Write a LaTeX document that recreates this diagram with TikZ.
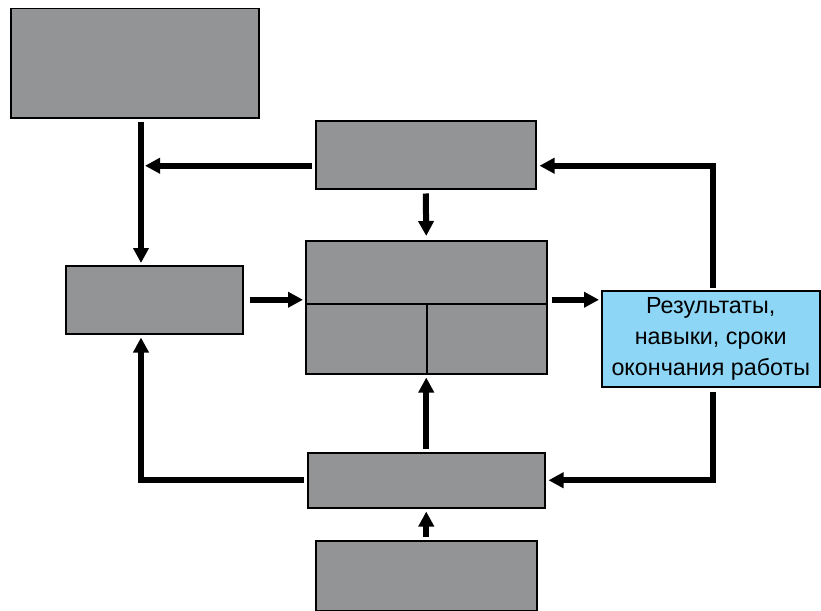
\documentclass[tikz,border=0pt]{standalone}
\usepackage{fontspec}
\setmainfont{Liberation Sans}
\usetikzlibrary{arrows.meta}
\definecolor{boxgray}{HTML}{939496}
\definecolor{boxblue}{HTML}{8DD6F6}
\tikzset{
  box/.style={draw=black, line width=1.5pt, fill=boxgray, inner sep=0pt, anchor=north west},
  arr/.style={line width=6pt, -{Triangle[length=15pt,width=15pt]}},
}
\begin{document}
\begin{tikzpicture}[x=1pt,y=-1pt]
\useasboundingbox (0,0) rectangle (821,610);
\node[box, minimum width=248pt, minimum height=109pt] (A) at (10,8) {};
\node[box, minimum width=220pt, minimum height=68pt] (B) at (315,120) {};
\node[box, minimum width=177pt, minimum height=68pt] (C) at (65,265) {};
\node[box, minimum width=241pt, minimum height=63pt] (D1) at (305,240) {};
\node[box, minimum width=121pt, minimum height=70pt] (D2) at (305,303) {};
\node[box, minimum width=120pt, minimum height=70pt] (D3) at (426,303) {};
\node[box, fill=boxblue, minimum width=218pt, minimum height=96pt, align=center,
      font=\fontsize{23.3pt}{31pt}\selectfont] (E) at (601,290)
      {Результаты,\\навыки, сроки\\окончания работы};
\node[box, minimum width=237pt, minimum height=55pt] (F) at (307,452) {};
\node[box, minimum width=221pt, minimum height=70pt] (G) at (315,540) {};
\coordinate (lc) at (141,0);
\coordinate (rc) at (713,0);
% A -> C
\draw[arr] ([yshift=-3pt]A.south -| lc) -- ([yshift=2pt]C.north -| lc);
% B -> left line
\draw[arr] ([xshift=-3pt,yshift=-11pt]B.west) -- ([yshift=-11pt]B.west -| 145,0);
% B -> D
\draw[arr] ([yshift=-4pt]B.south) -- ([yshift=4pt]D1.north);
% C -> D
\draw[arr] ([xshift=6pt]C.east) -- ([xshift=-2pt]C.east -| D2.west);
% D -> E
\draw[arr] ([xshift=4pt]C.east -| D3.east) -- ([xshift=-2pt]C.east -| E.west);
% E -> B
\draw[arr] ([yshift=2pt]E.north -| rc) |- ([xshift=3pt,yshift=-11pt]B.east);
% E -> F
\draw[arr] ([yshift=-4pt]E.south -| rc) |- ([xshift=3pt]F.east);
% F -> C
\draw[arr] ([xshift=-3pt]F.west) -| ([yshift=-3pt]C.south -| lc);
% F -> D
\draw[arr] ([yshift=3pt]F.north) -- ([yshift=-3pt]D2.south -| F.north);
% G -> F
\draw[arr] ([yshift=3pt]G.north) -- ([yshift=-3pt]F.south);
\end{tikzpicture}
\end{document}
